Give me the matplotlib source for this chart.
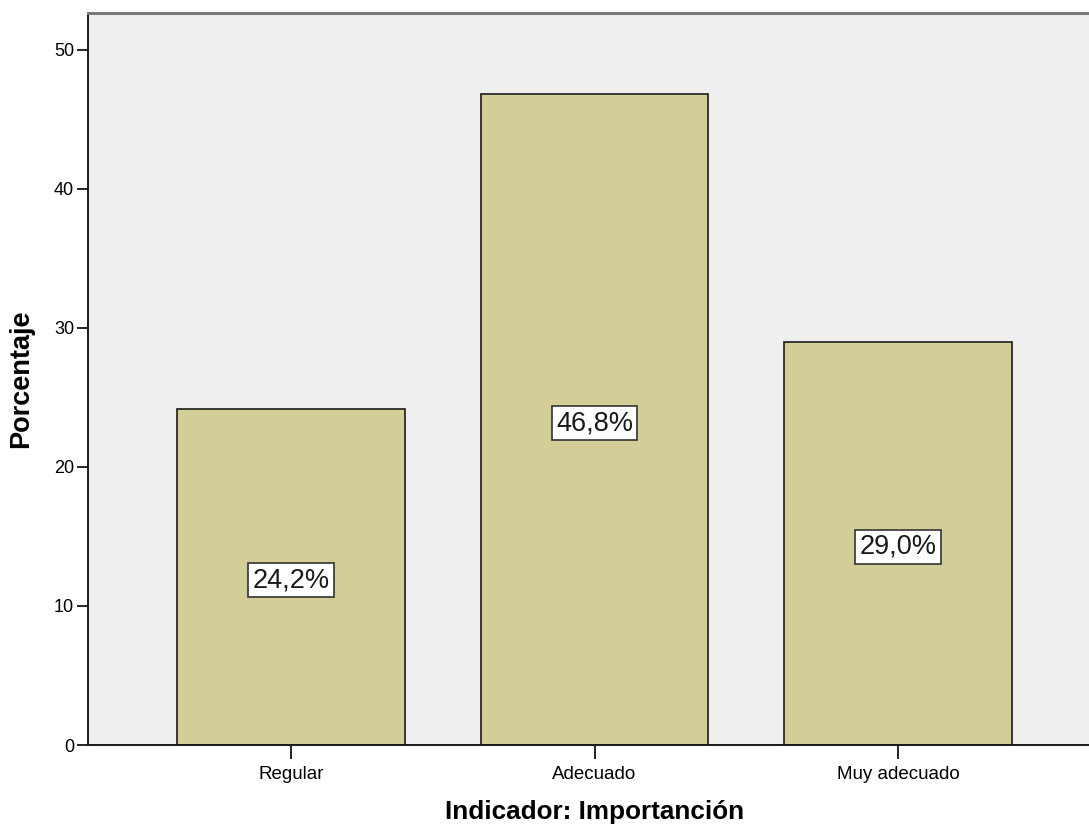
import matplotlib.pyplot as plt
import numpy as np

categorias = ['Regular', 'Adecuado', 'Muy adecuado']
porcentajes = [24.2, 46.8, 29.0]
etiquetas = ['24,2%', '46,8%', '29,0%']
y_ticks = [0, 10, 20, 30, 40, 50]

plt.rcParams['font.family'] = ['Liberation Sans', 'DejaVu Sans']

fig = plt.figure(figsize=(10.89, 8.31), dpi=100)
# axes runs slightly past the right edge of the figure, as in the original
ax = fig.add_axes([88 / 1089, 86 / 831, 1013 / 1089, 732 / 831])
ax.set_facecolor('#efefef')

x = np.arange(len(categorias))
ax.bar(x, porcentajes, width=0.751, color='#d3ce98', edgecolor='#1a1a1a', linewidth=1.2, zorder=2)

for xi, val, txt in zip(x, porcentajes, etiquetas):
    ax.text(xi, val / 2 - 0.25, txt, ha='center', va='center', fontsize=19.5, color='#1a1a1a', zorder=3,
            bbox=dict(boxstyle='square,pad=0.15', facecolor='white', edgecolor='#333333', linewidth=1.2))

ax.set_xlim(-0.669, 2.669)
ax.set_ylim(0, 52.66)
ax.set_xticks(x)
ax.set_xticklabels(categorias, fontsize=13.5)
ax.set_yticks(y_ticks)
ax.tick_params(axis='y', labelsize=13, length=8, width=1.2, pad=2)
ax.tick_params(axis='x', length=10, width=1.2, pad=5)

for s in ['left', 'bottom']:
    ax.spines[s].set_linewidth(1.4)
    ax.spines[s].set_color('#1a1a1a')
ax.spines['top'].set_color('#7a7a7a')
ax.spines['top'].set_linewidth(2.2)
ax.spines['right'].set_visible(False)

ax.set_xlabel('Indicador: Importanción', fontsize=18.8, fontweight='bold', labelpad=12)
ax.set_ylabel('Porcentaje', fontsize=19.5, fontweight='bold', labelpad=14)

fig.savefig('out.png', dpi=100)
